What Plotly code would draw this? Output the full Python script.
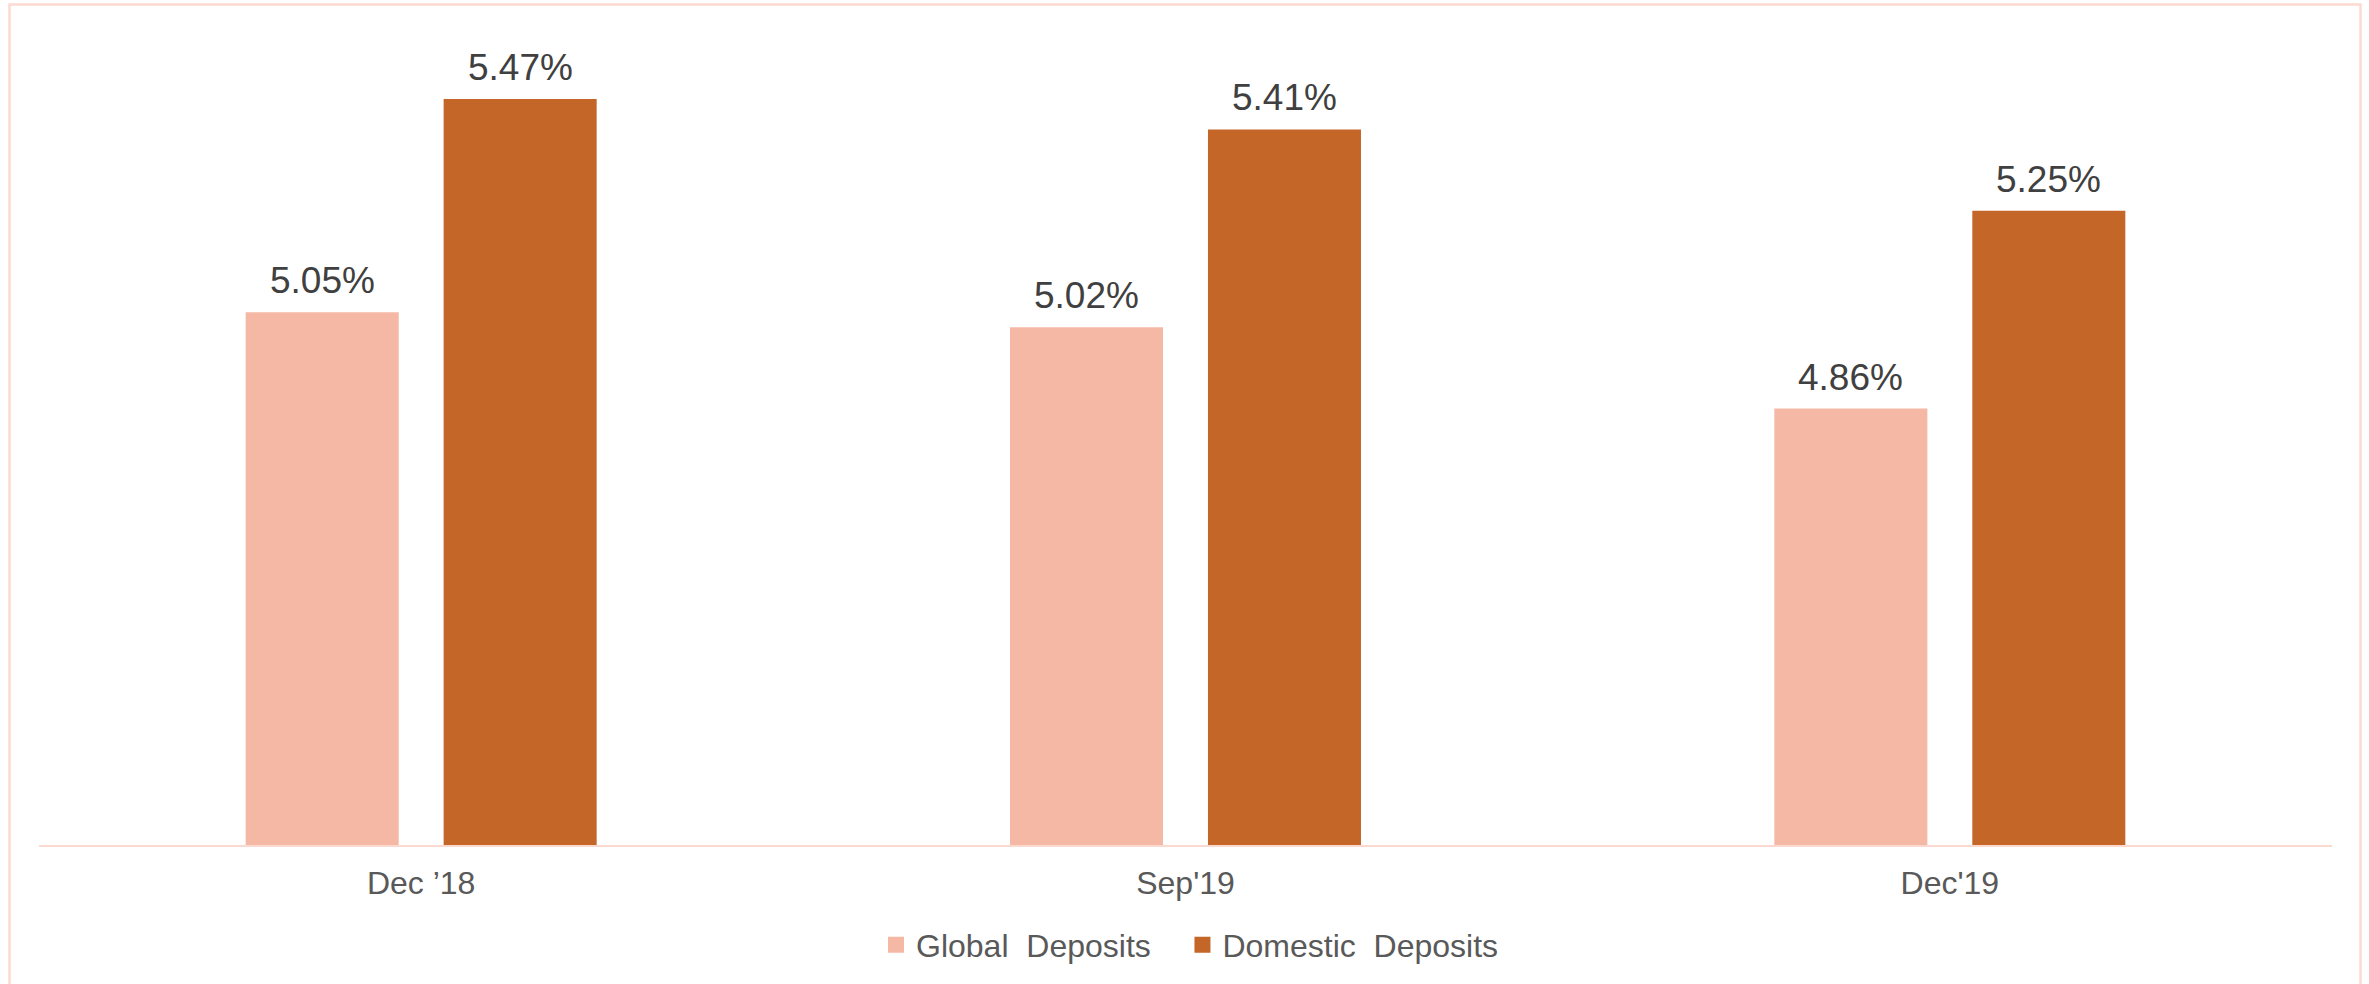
import plotly.graph_objects as go

categories = ["Dec \u201918", "Sep'19", "Dec'19"]
global_deposits = [5.05, 5.02, 4.86]
domestic_deposits = [5.47, 5.41, 5.25]
series_names = ["Global  Deposits", "Domestic  Deposits"]

W, H = 2369, 984
L, R, T, B = 39, 37, 33, 139
pw, ph = W - L - R, H - T - B

FONT = "Liberation Sans, Arial, sans-serif"
COLORS = ["#F4B8A5", "#C46628"]
LEGEND_PAD = ["\u00a0" * 3, ""]  # spacing after legend text

fig = go.Figure()
for name, vals, col in zip(series_names, [global_deposits, domestic_deposits], COLORS):
    fig.add_trace(go.Bar(
        x=categories, y=vals, name=name,
        marker=dict(color=col, line=dict(width=0)),
        cliponaxis=False, showlegend=False,
    ))
# legend entries with square swatches
for name, col, pad in zip(series_names, COLORS, LEGEND_PAD):
    fig.add_trace(go.Scatter(
        x=[None], y=[None], mode="markers", name=name + pad,
        marker=dict(symbol="square", size=16, color=col),
        showlegend=True, hoverinfo="skip",
    ))

# data labels above each bar
for vals, xs in [(global_deposits, -99), (domestic_deposits, 99)]:
    for c, v in zip(categories, vals):
        fig.add_annotation(x=c, y=v, text=f"{v:.2f}%", showarrow=False,
                           xshift=xs, yshift=9, yanchor="bottom",
                           font=dict(size=37, color="#404040", family=FONT))


def px_x(p):
    return (p - L) / pw


def px_y(p):
    return (H - B - p) / ph


fig.add_shape(type="rect", xref="paper", yref="paper",
              x0=px_x(9.5), x1=px_x(2360.5), y0=px_y(1000), y1=px_y(4.5),
              line=dict(color="#FDDAD0", width=2.5), fillcolor="rgba(0,0,0,0)", layer="below")

fig.update_layout(
    width=W, height=H,
    margin=dict(l=L, r=R, t=T, b=B, pad=0),
    paper_bgcolor="white", plot_bgcolor="white",
    barmode="group", bargap=0.482, bargroupgap=0.227,
    font=dict(family=FONT, color="#595959"),
    showlegend=True,
    legend=dict(orientation="h", x=px_x(876), xanchor="left", y=px_y(945), yanchor="middle",
                font=dict(size=32, color="#595959", family=FONT),
                traceorder="normal", bgcolor="rgba(0,0,0,0)", borderwidth=0),
    xaxis=dict(showline=True, linecolor="#FCD9CE", linewidth=2, ticks="", showgrid=False,
               zeroline=False, tickfont=dict(size=32, color="#595959", family=FONT),
               ticklabelstandoff=9),
    yaxis=dict(range=[4.0, 5.6], visible=False, showgrid=False, zeroline=False),
)

fig.write_html("out.html", config={"displayModeBar": False},
               post_script="document.body.style.margin='0';")
